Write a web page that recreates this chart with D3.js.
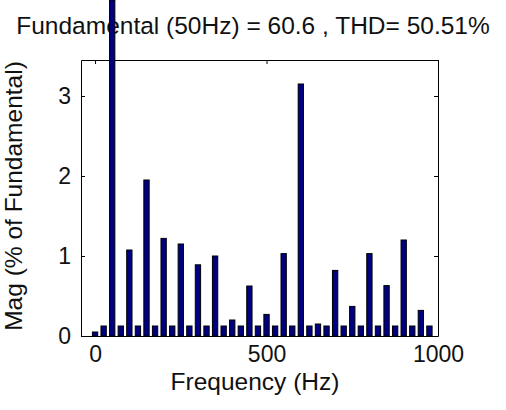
<!DOCTYPE html>
<html>
<head>
<meta charset="utf-8">
<script src="https://cdn.jsdelivr.net/npm/d3@7"></script>
<style>
  body { margin: 0; background: #fff; }
  text { font-family: "Liberation Sans", Arial, sans-serif; fill: #111; }
</style>
</head>
<body>
<svg width="506" height="410"></svg>
<script>
// Harmonic spectrum, 25 Hz steps
var freqs = d3.range(0, 1000, 25)
var mags = [0.05, 0.125, 100, 0.125, 1.075, 0.125, 1.95, 0.125, 1.22, 0.125,
  1.15, 0.125, 0.89, 0.125, 1.0, 0.125, 0.2, 0.125, 0.625, 0.125,
  0.27, 0.125, 1.03, 0.125, 3.15, 0.125, 0.15, 0.125, 0.82, 0.125,
  0.37, 0.125, 1.03, 0.125, 0.63, 0.125, 1.2, 0.125, 0.32, 0.125]
var xTicks = [0, 500, 1000]
var yTicks = [0, 1, 2, 3]
var title = 'Fundamental (50Hz) = 60.6 , THD= 50.51%'

var svg = d3.select('svg')
var mLeft = 81, mRight = 438, mTop = 60, mBottom = 336

var x = d3.scaleLinear().domain([-41, 1000]).range([mLeft, mRight])
var y = d3.scaleLinear().domain([0, 3.45]).range([mBottom, mTop])
var barW = 25 * (x(1) - x(0)) * 0.62

// Title (bars are drawn over it, like the reference)
svg.append('text')
  .attr('x', 253)
  .attr('y', 34)
  .attr('text-anchor', 'middle')
  .style('font-size', '24.5px')
  .text(title)

// Axes box with inward ticks
var tl = 4
var xBot = svg.append('g')
  .attr('transform', 'translate(0,' + mBottom + ')')
  .call(d3.axisBottom(x).tickValues(xTicks).tickSizeInner(-tl).tickSizeOuter(0).tickFormat(d3.format('d')))
var xTop = svg.append('g')
  .attr('transform', 'translate(0,' + mTop + ')')
  .call(d3.axisTop(x).tickValues(xTicks).tickSizeInner(-tl).tickSizeOuter(0).tickFormat(''))
var yLeft = svg.append('g')
  .attr('transform', 'translate(' + mLeft + ',0)')
  .call(d3.axisLeft(y).tickValues(yTicks).tickSizeInner(-tl).tickSizeOuter(0).tickFormat(d3.format('d')))
var yRight = svg.append('g')
  .attr('transform', 'translate(' + mRight + ',0)')
  .call(d3.axisRight(y).tickValues(yTicks).tickSizeInner(-tl).tickSizeOuter(0).tickFormat(''))

;[xBot, xTop, yLeft, yRight].forEach(function (g) {
  g.selectAll('.domain, .tick line').attr('stroke', '#000')
  g.selectAll('.tick text').style('font-size', '23px').attr('fill', '#111')
})
xBot.selectAll('.tick text').attr('y', 10)
yLeft.selectAll('.tick text').attr('x', -10)

// Bars
svg.append('g')
  .selectAll('rect')
  .data(freqs)
  .enter()
  .append('rect')
  .attr('x', function (d) { return x(d) - barW / 2 })
  .attr('width', barW)
  .attr('y', function (d, i) { return Math.max(0, y(mags[i])) })
  .attr('height', function (d, i) { return mBottom - Math.max(0, y(mags[i])) })
  .attr('fill', '#000080')
  .attr('stroke', '#000')
  .attr('stroke-width', 1)

// Axis labels
svg.append('text')
  .attr('x', 255)
  .attr('y', 390)
  .attr('text-anchor', 'middle')
  .style('font-size', '24.5px')
  .text('Frequency (Hz)')
svg.append('text')
  .attr('transform', 'translate(22,196) rotate(-90)')
  .attr('text-anchor', 'middle')
  .style('font-size', '24.5px')
  .text('Mag (% of Fundamental)')
</script>
</body>
</html>
